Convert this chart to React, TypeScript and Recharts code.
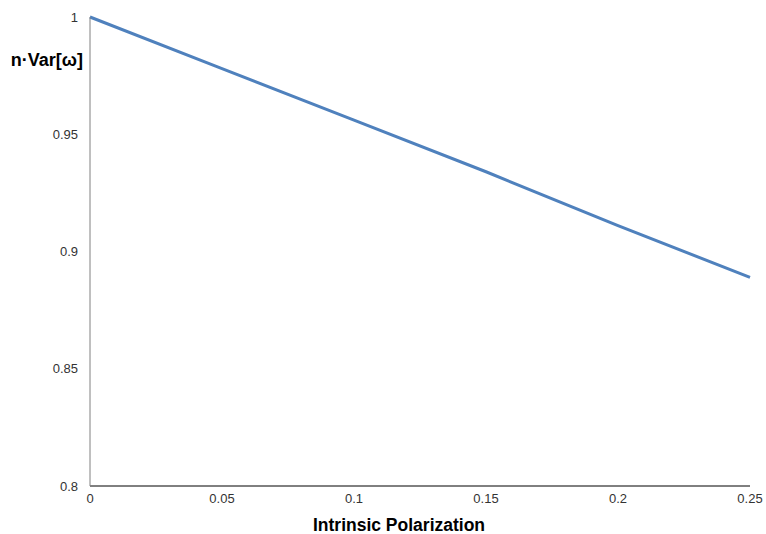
import React from 'react';
import { LineChart, Line, XAxis, YAxis } from 'recharts';

const polarization = [0, 0.05, 0.1, 0.15, 0.2, 0.25];
const variance = [1, 0.978, 0.956, 0.934, 0.911, 0.889];
const xTicks = [0, 0.05, 0.1, 0.15, 0.2, 0.25];
const yTicks = [0.8, 0.85, 0.9, 0.95, 1];

const data = polarization.map((p, i) => ({ p, v: variance[i] }));

const FONT = '"Liberation Sans", Arial, sans-serif';

const YLabel = (props: any) => {
  const vb = props.viewBox || {};
  return (
    <text x={vb.x + vb.width - 7} y={vb.y + 49} textAnchor="end" fontFamily={FONT} fontSize={18} fontWeight="bold" fill="#000">
      n·Var[ω]
    </text>
  );
};

const XLabel = (props: any) => {
  const vb = props.viewBox || {};
  return (
    <text x={399} y={vb.y + 45} textAnchor="middle" fontFamily={FONT} fontSize={17.5} fontWeight="bold" fill="#000">
      Intrinsic Polarization
    </text>
  );
};

export default function App() {
  return (
    <div style={{ position: 'absolute', left: 0, top: 0, background: '#fff' }}>
      <LineChart width={766} height={534} data={data} margin={{ top: 17, right: 16, bottom: 18, left: 0 }}>
        <XAxis
          dataKey="p"
          type="number"
          domain={[0, 0.25]}
          ticks={xTicks}
          tickLine={false}
          tickMargin={2}
          height={30}
          axisLine={{ stroke: '#000', strokeWidth: 1 }}
          tick={{ fill: '#333', fontSize: 13, fontFamily: FONT }}
          label={<XLabel />}
        />
        <YAxis
          type="number"
          domain={[0.8, 1]}
          ticks={yTicks}
          width={90}
          tickLine={false}
          tickMargin={6}
          axisLine={{ stroke: '#808080', strokeWidth: 1 }}
          tick={{ fill: '#333', fontSize: 13, fontFamily: FONT }}
          label={<YLabel />}
        />
        <Line dataKey="v" type="linear" stroke="#4F81BD" strokeWidth={3} dot={false} isAnimationActive={false} />
      </LineChart>
    </div>
  );
}
